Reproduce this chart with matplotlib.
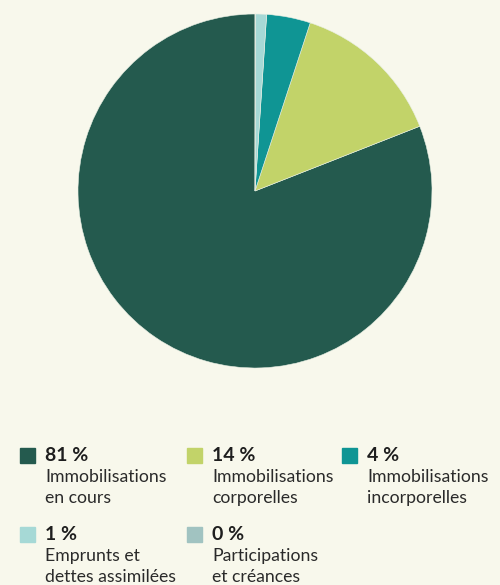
import matplotlib.pyplot as plt
from matplotlib.patches import Rectangle

# share of each category (%)
labels = ['Immobilisations\nen cours', 'Immobilisations\ncorporelles',
          'Immobilisations\nincorporelles', 'Emprunts et\ndettes assimilées',
          'Participations\net créances']
values = [81, 14, 4, 1, 0.05]
pct_labels = ['81 %', '14 %', '4 %', '1 %', '0 %']
colors = ['#245a4e', '#c2d369', '#0f9594', '#a6d9d6', '#a1c3c1']

bg = '#f8f8ec'
W, H = 500, 585

fig = plt.figure(figsize=(W / 100, H / 100), dpi=100, facecolor=bg)

# pie
cx, cy, r = 255, 191, 177
ax = fig.add_axes([(cx - r) / W, 1 - (cy + r) / H, 2 * r / W, 2 * r / H])
ax.pie(values, colors=colors, startangle=90, counterclock=True,
       wedgeprops=dict(linewidth=0.4, edgecolor='#e8efe4'))
ax.set_xlim(-1, 1)
ax.set_ylim(-1, 1)
ax.set_aspect('equal')
ax.axis('off')

# legend drawn by hand
cols_x = [20, 187, 342]
rows_y = [448, 527]
for i in range(len(values)):
    x = cols_x[i % 3]
    y = rows_y[i // 3]
    fig.patches.append(Rectangle((x / W, 1 - (y + 15) / H), 15 / W, 15 / H,
                                 transform=fig.transFigure, color=colors[i]))
    fig.text((x + 25) / W, 1 - (y + 13) / H, pct_labels[i], fontsize=14,
             fontweight='bold', family='Lato', color='#1e1e1e', va='baseline')
    for j, line in enumerate(labels[i].split('\n')):
        fig.text((x + 25) / W, 1 - (y + 34 + 21 * j) / H, line,
                 fontsize=12.7, family='Lato', color='#2a2a2a', va='baseline')

fig.savefig('out.png', dpi=100, facecolor=bg)
